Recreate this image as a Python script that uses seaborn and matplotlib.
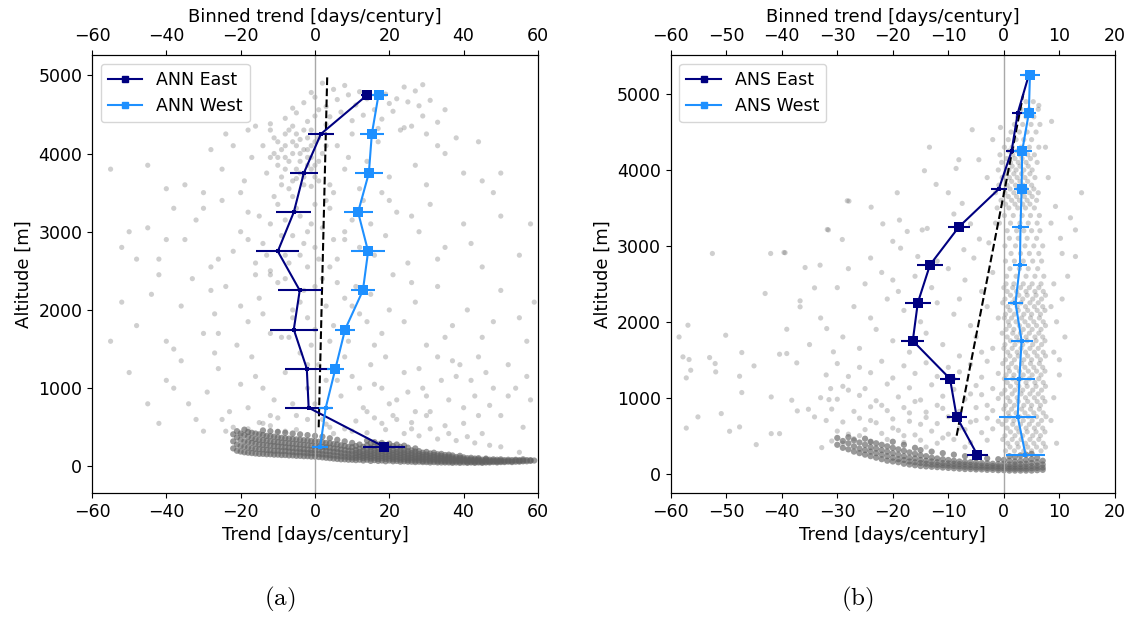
import matplotlib
matplotlib.use("Agg")
import matplotlib.pyplot as plt
import seaborn as sns
from matplotlib.lines import Line2D

# ---------------- binned profiles ----------------
alt_a = [250, 750, 1250, 1750, 2250, 2750, 3250, 3750, 4250, 4750]
ann_east = [18.6, -1.7, -2.2, -5.7, -4.1, -10.0, -5.7, -3.0, 1.6, 14.1]
ann_east_err = [5.6, 6.3, 6.0, 6.5, 5.9, 5.8, 4.7, 3.8, 3.4, 1.8]
ann_east_sig = [1, 0, 0, 0, 0, 0, 0, 0, 0, 1]
ann_west = [1.4, 2.9, 5.5, 8.1, 12.9, 14.3, 11.6, 14.5, 15.3, 17.1]
ann_west_err = [2.1, 1.9, 2.3, 2.6, 3.2, 4.6, 3.9, 3.8, 3.3, 2.6]
ann_west_sig = [0, 0, 1, 1, 1, 1, 1, 1, 1, 1]
fit_a_alt = [500, 5000]
fit_a_trend = [1.0, 3.3]

alt_b = [250, 750, 1250, 1750, 2250, 2750, 3250, 3750, 4250, 4750, 5250]
ans_east = [-4.8, -8.5, -9.7, -16.4, -15.5, -13.3, -8.1, -0.9, 1.4, 2.5, 4.5]
ans_east_err = [1.9, 1.8, 1.8, 2.1, 2.3, 2.3, 2.0, 1.4, 1.1, 1.1, 1.0]
ans_east_sig = [1, 1, 1, 1, 1, 1, 1, 0, 0, 0, 0]
ans_west = [3.9, 2.5, 2.8, 3.2, 2.1, 2.9, 3.0, 3.2, 3.3, 4.5, 4.7]
ans_west_err = [3.5, 3.3, 2.8, 2.0, 1.4, 1.3, 1.5, 1.4, 1.7, 1.3, 1.85]
ans_west_sig = [0, 0, 0, 0, 0, 0, 0, 1, 1, 1, 1]
fit_b_alt = [500, 5000]
fit_b_trend = [-8.5, 3.5]

# ---------------- station scatter, panel (a) ----------------
cloud_a = [
    (2, 4900), (5, 4820), (-1, 4780), (8, 4870), (24, 4850), (27, 4800), (19, 4760), (12, 4790), (29, 4880), (22, 4700),
    (-3, 4650), (0, 4720), (3, 4600), (6, 4690), (9, 4750), (11, 4620), (20, 4640), (25, 4660), (28, 4610), (31, 4680),
    (35, 4560), (16, 4560), (-6, 4580), (14, 4700),
    (-8, 4450), (-5, 4520), (-2, 4410), (1, 4560), (4, 4470), (7, 4530), (10, 4420), (13, 4490), (18, 4440), (21, 4540),
    (24, 4330), (26, 4350), (29, 4480), (33, 4400), (38, 4200), (-12, 4380), (0, 4480), (3, 4370), (-18, 4300), (17, 4320),
    (30, 4250), (44, 4150),
    (-14, 4100), (-12, 3950), (-11, 4200), (-10, 3850), (-9, 4050), (-8, 4250), (-7, 3900), (-6, 4150), (-5, 3800),
    (-4, 4000), (-3, 4300), (-2, 3950), (-1, 4100), (0, 3850), (1, 4200), (2, 4000),
    (-13, 3750), (-11, 4000), (-9, 3700), (-8, 3950), (-7, 4300), (-6, 3650), (-5, 4100), (-4, 3900), (-3, 3700),
    (-2, 4050), (-1, 3800), (0, 4150), (1, 3650),
    (-10, 4150), (-8, 3800), (-6, 4000), (-5, 4250), (-4, 3750), (-3, 3600), (-2, 4200), (-1, 3950), (0, 3700),
    (-7, 3550), (-9, 3600), (-3, 4050), (-1, 4300),
    (-12, 4300), (-6, 4350), (-4, 4180), (-2, 3850), (1, 3900), (-8, 4100), (-10, 3950), (-5, 3680), (3, 4100), (-1, 3580),
    (-30, 3500), (-25, 3800), (-22, 4100), (-19, 3650), (-17, 3950), (-16, 4350), (4, 3600), (6, 4100), (8, 3800),
    (10, 4250), (12, 3550), (14, 3900), (17, 4150), (20, 3700), (23, 4300), (27, 3850), (30, 3600), (35, 4000),
    (40, 3750), (45, 3650), (-35, 3600), (-40, 3550), (-20, 3500), (5, 3500), (9, 3950), (-45, 3850), (-55, 3800),
    (50, 3750), (-28, 4050), (-24, 4250), (18, 3500), (33, 4100), (48, 3500),
    (-52, 2800), (-45, 3050), (-42, 2650), (-38, 3300), (-35, 2900), (-32, 3150), (-28, 2550), (-25, 3400), (-22, 2750),
    (-20, 3000), (-18, 3250), (-16, 2600), (-14, 2850), (-12, 3100), (-10, 3350), (-8, 2700), (-6, 2950), (-4, 3200),
    (-2, 2550), (0, 2800), (2, 3050), (4, 3300), (6, 2650), (8, 2900), (10, 3150), (13, 3400), (16, 2700), (19, 2950),
    (22, 3250), (25, 2600), (28, 3000), (31, 3350), (35, 2800), (40, 3100), (45, 2550), (50, 3200), (55, 2700),
    (-15, 3200), (-13, 2700), (-11, 3450), (-9, 2950), (-7, 2600), (-5, 3300), (-3, 2850), (-1, 3100), (1, 2650),
    (3, 3400), (5, 2900), (-12, 2500), (-8, 3150), (-4, 2700), (0, 3350), (4, 2550), (8, 3000), (12, 2800),
    (-50, 3000), (-48, 2650), (-40, 2900), (-30, 3300), (-26, 2650), (20, 3400), (26, 3200), (33, 2650), (42, 2850),
    (58, 3100), (-18, 2900), (-6, 3450), (-2, 3000), (15, 3100),
    (-48, 1800), (-44, 2200), (-40, 1600), (-36, 2050), (-33, 2400), (-30, 1700), (-27, 1950), (-24, 2300), (-21, 1550),
    (-18, 1850), (-15, 2150), (-12, 2450), (-9, 1650), (-6, 1900), (-3, 2250), (0, 1750), (3, 2050), (6, 2350),
    (9, 1600), (12, 1950), (15, 2200), (18, 1700), (21, 2450), (24, 1850), (27, 2100), (30, 1550), (33, 2300),
    (37, 1800), (41, 2000), (45, 1650), (50, 2250), (55, 1900), (59, 2100),
    (-14, 1950), (-10, 2350), (-7, 1650), (-4, 2100), (-1, 1550), (2, 2400), (5, 1800), (8, 2150), (-12, 1700),
    (-6, 2000), (0, 2300), (4, 1600), (10, 2050), (14, 1850), (-16, 2450), (-2, 1900),
    (-55, 1600), (-52, 2100), (-42, 2450), (-38, 1500), (-26, 1700), (-20, 2050), (-8, 2400), (16, 1550), (20, 2000),
    (26, 2350), (35, 1650), (48, 1850), (57, 1600), (-28, 2250), (11, 2300),
    (-45, 800), (-40, 1100), (-36, 1350), (-32, 600), (-29, 950), (-26, 1250), (-23, 700), (-20, 1050), (-17, 1400),
    (-14, 550), (-11, 850), (-8, 1200), (-5, 650), (-2, 1000), (1, 1300), (4, 500), (7, 900), (10, 1150), (13, 750),
    (16, 1050), (19, 1400), (22, 600), (25, 950), (28, 1250), (31, 700), (34, 1100), (37, 1350), (40, 550), (43, 900),
    (46, 1200), (50, 650), (54, 1000), (58, 850),
    (-22, 500), (-18, 750), (-14, 1000), (-10, 450), (-6, 800), (-2, 1300), (2, 600), (6, 1100), (10, 450), (14, 700),
    (18, 550), (22, 850), (26, 480), (30, 650), (35, 520), (40, 750), (-25, 600), (-30, 450), (-38, 1000),
    (-50, 1200), (-42, 550), (-34, 800), (-27, 1450), (-16, 1150), (-12, 650), (-4, 1450), (0, 800), (3, 1100),
    (8, 1400), (12, 1000), (15, 1300), (20, 800), (24, 1200), (29, 1000), (33, 1400), (38, 1150), (44, 650),
    (48, 1000), (52, 1300), (56, 500), (-20, 400), (-8, 450), (45, 420),
    (-18, 480), (-12, 520), (-5, 470), (3, 540), (8, 480), (14, 430), (19, 470), (24, 420), (28, 390), (33, 350),
    (38, 330), (43, 300), (-15, 560), (-2, 600), (11, 580), (16, 620), (26, 560), (31, 480), (36, 420), (50, 250),
    (55, 180), (47, 270), (41, 380), (21, 650), (-10, 620), (5, 420), (-24, 450), (30, 900), (36, 850), (42, 1100),
    (47, 780), (52, 900), (57, 1150), (27, 700), (18, 1000), (39, 1300), (44, 1400),
]

band_a_trend = list(range(-22, 60))
band_a_alt = [
    [230, 320, 410], [200, 280, 370, 450], [190, 260, 340, 420], [180, 250, 320, 400, 470],
    [175, 240, 310, 380, 440], [170, 230, 300, 360, 430], [165, 225, 290, 350, 420], [160, 220, 280, 340, 410],
    [160, 215, 275, 335, 400, 460], [155, 210, 270, 330, 390], [155, 205, 265, 320, 385, 450],
    [150, 200, 260, 315, 380], [150, 200, 255, 310, 370, 440], [145, 195, 250, 305, 365],
    [145, 195, 245, 300, 360, 430], [140, 190, 240, 295, 355], [140, 185, 235, 290, 350, 420],
    [135, 180, 230, 285, 345], [135, 180, 225, 280, 340, 410], [130, 175, 220, 275, 335],
    [130, 170, 215, 270, 330, 400], [125, 170, 210, 265, 325], [125, 165, 210, 260, 320, 390],
    [120, 160, 205, 255, 315], [115, 155, 200, 250, 310, 380], [110, 150, 195, 245, 300],
    [105, 145, 190, 240, 295, 360], [100, 140, 185, 230, 285], [95, 135, 180, 225, 280, 340],
    [90, 130, 170, 215, 270], [90, 125, 165, 210, 260, 320], [85, 120, 160, 200, 250],
    [85, 115, 155, 195, 245, 300],
    [80, 110, 140, 175, 210, 260], [85, 120, 150, 185, 225, 280],
    [75, 105, 135, 165, 200, 250], [85, 115, 145, 180, 215, 270, 330], [70, 100, 130, 160, 195, 240, 300],
    [80, 110, 140, 175, 210, 255, 310], [70, 95, 125, 155, 190, 230, 280], [75, 105, 135, 165, 200, 245, 300],
    [65, 95, 120, 150, 180, 220, 270], [75, 100, 130, 160, 195, 240, 290], [65, 90, 115, 145, 175, 210, 260],
    [70, 95, 125, 155, 185, 225, 280], [60, 85, 110, 140, 170, 205, 250], [65, 90, 120, 150, 180, 215, 265],
    [60, 80, 105, 130, 160, 195, 240], [60, 85, 110, 140, 170, 205], [55, 75, 100, 125, 155, 190, 230],
    [60, 80, 105, 130, 160, 195], [55, 70, 95, 120, 145, 175], [55, 75, 100, 125, 150, 185],
    [50, 70, 90, 110, 135, 165], [55, 75, 95, 120, 145, 175], [50, 65, 85, 105, 130, 155],
    [50, 70, 90, 110, 135, 160], [50, 65, 80, 100, 120, 145], [50, 65, 85, 105, 125, 150],
    [45, 60, 75, 95, 115, 140], [50, 65, 80, 100, 120], [45, 60, 75, 90, 110, 135], [50, 65, 80, 95, 115],
    [45, 55, 70, 85, 105], [50, 60, 75, 90, 110], [45, 55, 70, 85, 100], [50, 60, 75, 90, 105],
    [45, 55, 70, 85], [50, 60, 75, 90, 100], [50, 60, 70, 85], [55, 65, 75, 90], [50, 60, 70, 85],
    [55, 65, 75, 90], [55, 65, 80], [60, 70, 85], [55, 65, 80], [60, 75, 85], [60, 70, 80], [65, 75, 90],
    [65, 80], [70, 80], [75],
]

# ---------------- station scatter, panel (b) ----------------
cloud_b = [
    (-58.5, 1800), (-57.8, 1538), (-56.9, 1955), (-56.7, 1503), (-56.4, 1362), (-57.2, 1261), (-57.2, 600),
    (-55.1, 747), (-52.5, 2900), (-53, 1529), (-52, 1450), (-51.9, 1340), (-50.9, 791), (-50.1, 1823),
    (-49.4, 558), (-47.6, 615), (-47.2, 1595), (-47.2, 1068), (-47.6, 1283), (-45, 1419), (-44.6, 382),
    (-43, 2373), (-42, 2900), (-41.9, 1010), (-41.9, 527), (-40.4, 527), (-40.4, 1573), (-39.6, 2913),
    (-39.1, 1582), (-39.1, 1902), (-38.2, 967), (-37.3, 1459), (-37.2, 826), (-36.7, 2276), (-36.7, 2197),
    (-35.8, 2715), (-35.2, 848), (-34.1, 747), (-34.1, 2447), (-33.1, 2746), (-32.8, 343), (-31.9, 1911),
    (-31.8, 3216), (-31.5, 975), (-31.2, 1120), (-30.7, 1604), (-29.1, 3084), (-28.2, 3594),
    (-13.4, 4300), (-8.1, 4135), (-14.3, 3990), (-8.6, 4020), (-4.5, 4135), (-12.2, 3810), (-19.2, 3700),
    (-27.9, 3590), (-23.9, 3510), (-21.8, 3290), (-31.6, 3210), (-18.8, 3340), (-17.4, 3190), (-14.7, 3210),
    (-13.8, 3230), (-7.5, 3560), (-9, 3420), (-6, 3290), (-4.4, 3090), (-39.4, 2910), (-24, 2840),
    (-20, 3060), (-18.6, 2970), (-15.5, 2860), (-7.2, 2950), (-5.4, 2840), (-2.7, 3040), (14, 3700),
    (12, 3370), (12.9, 3210), (9.3, 3520), (10.2, 3100), (10.5, 2900), (12.9, 2860), (-0.6, 4560),
    (-5.7, 4530), (6.3, 4850), (8.6, 4640), (-2, 4400), (-3, 3900), (7.5, 4300), (8, 3900), (-1.5, 3300),
    (8.5, 3300), (-10, 3700),
    (-28, 2700), (-25, 2500), (-22, 2650), (-19, 2400), (-16, 2600), (-13, 2450), (-10, 2700), (-7, 2550),
    (-4, 2400), (-2, 2650), (-27, 2200), (-24, 2050), (-21, 2300), (-18, 2150), (-15, 2000), (-12, 2250),
    (-9, 2100), (-6, 1950), (-3, 2200), (-1, 2050), (-29, 1800), (-26, 1650), (-23, 1900), (-20, 1750),
    (-17, 1600), (-14, 1850), (-11, 1700), (-8, 1550), (-5, 1800), (-2, 1650), (-30, 2450), (-33, 2050),
    (-35, 1700), (-12, 2800), (-20, 2550), (-8, 2300), (-4, 1600),
    (9, 2500), (10.5, 2300), (9.5, 2000), (11, 1800), (9, 1600), (10, 1300), (9, 1000), (8.5, 700),
    (9.5, 400), (11.5, 2600), (8.5, 2200), (10, 1500),
    (-30, 1450), (-26, 1400), (-22, 1480), (-18, 1420), (-14, 1460), (-10, 1400), (-6, 1440), (-3, 1480),
    (-32, 1300), (-28, 1280), (-24, 1330), (-20, 1260), (-16, 1320), (-12, 1280), (-8, 1340), (-4, 1270),
    (-1, 1320), (-29, 1150), (-25, 1120), (-21, 1180), (-17, 1130), (-13, 1170), (-9, 1110), (-5, 1160),
    (-2, 1120), (-33, 1000), (-30, 980), (-26, 1030), (-23, 960), (-19, 1010), (-15, 970), (-11, 1020),
    (-7, 980), (-4, 1040), (-1, 990), (-31, 850), (-27, 820), (-24, 880), (-21, 830), (-18, 870), (-14, 810),
    (-11, 860), (-8, 820), (-5, 870), (-2, 830), (-32, 700), (-29, 680), (-26, 730), (-23, 670), (-20, 720),
    (-17, 690), (-14, 740), (-12, 660), (-9, 710), (-6, 680), (-3, 730), (-1, 690), (-30, 560), (-28, 520),
    (-25, 580), (-22, 530), (-19, 570), (-16, 510), (-13, 560), (-10, 520), (-7, 580), (-4, 540), (-2, 590),
    (-31, 430), (-29, 400), (-27, 460), (-24, 420), (-21, 450), (-18, 410), (-15, 440), (-12, 400), (-9, 450),
    (-6, 410), (-3, 440), (-20, 600), (-17, 800), (-15, 650), (-12, 900), (-10, 750), (-8, 600), (-18, 500),
    (-14, 350), (-11, 470), (-7, 350), (-5, 700), (-3, 900), (-16, 950), (-9, 1250), (-6, 1050), (-24, 700),
    (-26, 500), (-22, 900), (-28, 1100),
]

column_b_alt = [300, 350, 400, 450, 500, 550, 600, 650, 700, 750, 800, 850, 900, 950, 1000, 1050, 1100, 1150,
                1200, 1250, 1300, 1350, 1400, 1450, 1500, 1550, 1600, 1650, 1700, 1750, 1800, 1850, 1900, 1950,
                2000, 2050, 2100, 2150, 2200, 2250, 2300, 2350, 2400, 2450, 2500, 2600, 2700, 2800, 2900, 3000,
                3100, 3200, 3300, 3400, 3500, 3550, 3600, 3650, 3700, 3750, 3800, 3850, 3900, 3950, 4000, 4050,
                4100, 4150, 4200, 4250, 4300, 4400, 4500, 4600, 4700, 4800, 4900]
column_b_trend = [
    [0.3, 1.9, 3.6, 5.0, 6.7], [1.1, 2.6, 4.3, 5.9, 7.5], [0.7, 2.4, 3.9, 5.4, 7.1], [1.5, 3.1, 4.7, 6.3, -0.2],
    [0.2, 2.0, 3.4, 5.2, 6.6], [1.2, 2.7, 4.2, 5.8, 7.4], [0.6, 2.3, 4.0, 5.5, 7.0], [1.6, 3.0, 4.6, 6.2, -0.3],
    [0.4, 1.8, 3.5, 5.1, 6.8], [1.0, 2.8, 4.4, 5.9, 7.6], [0.8, 2.2, 3.8, 5.4, 7.1], [1.4, 3.2, 4.8, 6.4, 0.0],
    [0.3, 1.9, 3.6, 5.0, 6.6], [1.1, 2.6, 4.3, 6.0, 7.4], [0.7, 2.4, 3.9, 5.5, 7.0], [1.5, 3.1, 4.7, 6.2, -0.4],
    [0.2, 2.0, 3.4, 5.2, 6.8], [1.2, 2.7, 4.2, 5.8, 7.5], [0.6, 2.3, 4.0, 5.6, 7.1], [1.6, 3.0, 4.6, 6.3, 0.1],
    [0.4, 1.8, 3.5, 5.1, 6.7], [1.0, 2.8, 4.4, 5.9, 7.4], [0.8, 2.2, 3.8, 5.4, 7.0], [1.4, 3.2, 4.8, 6.4, -0.2],
    [0.3, 1.9, 3.6, 5.0, 6.6], [1.1, 2.6, 4.3, 6.0, 7.5], [0.7, 2.4, 3.9, 5.5, 7.1], [1.5, 3.1, 4.7, 6.2, 0.0],
    [0.2, 2.0, 3.4, 5.2, 6.8], [1.2, 2.7, 4.2, 5.8, 7.4], [0.6, 2.3, 4.0, 5.6, 7.0], [1.6, 3.0, 4.6, 6.3, -0.3],
    [0.4, 1.8, 3.5, 5.1, 6.7], [1.0, 2.8, 4.4, 5.9, 7.5], [0.8, 2.2, 3.8, 5.4, 7.1], [1.4, 3.2, 4.8, 6.4, 0.1],
    [0.3, 1.9, 3.6, 5.0, 6.6], [1.1, 2.6, 4.3, 6.0, 7.4], [0.7, 2.4, 3.9, 5.5, 7.0], [1.5, 3.1, 4.7, 6.2, -0.2],
    [0.2, 2.0, 3.4, 5.2, 6.8], [1.2, 2.7, 4.2, 5.8, 7.5], [0.6, 2.3, 4.0, 5.6, 7.1], [1.6, 3.0, 4.6, 6.3, 0.0],
    [0.4, 1.8, 3.5, 5.1, 6.7],
    [0.5, 2.2, 4.0, 5.6, 7.2], [1.1, 2.8, 4.4, 6.1], [0.3, 1.9, 3.5, 5.2, 6.8],
    [1.3, 3.0, 4.6, 6.3], [0.2, 2.1, 3.8, 5.4, 7.0], [1.0, 2.6, 4.2, 5.9], [0.6, 2.3, 3.6, 5.0, 6.5],
    [-0.8, 1.2, 2.9, 4.4, 6.0], [0.1, 1.7, 3.3, 4.8, 6.4], [-1.2, 0.9, 2.5, 3.9, 5.5], [0.3, 2.0, 3.4, 4.7],
    [-0.5, 1.4, 2.8, 4.2, 5.9], [0.8, 2.3, 3.7, 5.1], [-1.5, 0.2, 1.8, 3.2, 4.6, 6.2], [1.1, 2.6, 4.0, 5.4],
    [-0.9, 0.6, 2.1, 3.5, 5.0], [1.4, 2.9, 4.3], [-0.3, 1.0, 2.4, 3.8, 5.6], [0.4, 1.8, 3.2, 4.7],
    [-1.0, 0.9, 2.2, 3.6, 5.1], [1.5, 2.9, 4.4], [-0.4, 1.2, 2.6, 4.0, 6.0], [0.5, 2.0, 3.3, 4.8],
    [-0.7, 1.6, 2.9, 4.3, 5.5], [0.9, 2.4, 3.7], [0.1, 1.5, 3.1, 4.6, 6.3], [0.8, 2.2, 3.6, 5.0],
    [1.3, 2.8, 4.2, 5.8], [1.9, 3.4, 4.9, 6.5], [2.5, 4.0, 5.4], [3.1, 4.6, 6.2], [4.0, 5.3],
]

band_b_trend = list(range(-30, 8))
band_b_alt = [
    [380, 470], [340, 430], [320, 400, 480], [290, 360, 440], [270, 330, 410], [250, 310, 380, 460],
    [230, 290, 350, 420], [210, 270, 330, 400], [190, 250, 310, 380], [170, 230, 290, 360],
    [160, 210, 270, 340, 420], [150, 190, 250, 320], [130, 180, 230, 300, 380], [120, 160, 210, 280],
    [110, 150, 200, 260, 340], [100, 140, 180, 240, 310], [95, 130, 170, 230], [90, 120, 160, 210, 290],
    [85, 115, 150, 200], [80, 110, 140, 190, 270], [75, 105, 135, 180], [70, 100, 130, 170, 250],
    [65, 95, 125, 160], [60, 90, 120, 155, 230], [60, 85, 115, 150], [55, 80, 110, 145, 210],
    [55, 80, 105, 140], [50, 75, 100, 135, 200], [50, 75, 100, 130], [45, 70, 95, 125, 190],
    [45, 70, 95, 130, 180], [40, 65, 90, 120, 170, 230], [40, 65, 90, 120, 160, 220],
    [40, 65, 90, 125, 170, 240], [40, 65, 95, 130, 180, 250], [40, 70, 100, 140, 190, 260],
    [45, 75, 105, 150, 210], [50, 80, 120, 170],
]

# ---------------- styling ----------------
plt.rcParams["font.family"] = ["DejaVu Sans"]
plt.rcParams["mathtext.fontset"] = "cm"
plt.rcParams["font.size"] = 12

EAST = "#000080"
WEST = "#1e90ff"
PT = "#626262"

fig = plt.figure(figsize=(11.33, 6.17), dpi=100)
ax_a = fig.add_axes([0.0812, 0.201, 0.3936, 0.7099])
ax_b = fig.add_axes([0.5920, 0.201, 0.3920, 0.7099])


def flatten(cols, rows):
    xs, ys = [], []
    for c, r in zip(cols, rows):
        for v in r:
            xs.append(c)
            ys.append(v)
    return xs, ys


def scatter_points(ax, xs, ys, alpha, s):
    sns.scatterplot(x=xs, y=ys, ax=ax, color=PT, alpha=alpha, s=s,
                    edgecolor="none", linewidth=0, legend=False, zorder=1)


def profile(ax, trend, err, sig, alt, color):
    sns.lineplot(x=trend, y=alt, ax=ax, sort=False, estimator=None, color=color,
                 lw=1.5, legend=False, zorder=4)
    ax.errorbar(trend, alt, xerr=err, fmt="none", ecolor=color, elinewidth=1.5,
                capsize=0, zorder=4)
    big_x = [t for t, s in zip(trend, sig) if s]
    big_y = [a for a, s in zip(alt, sig) if s]
    sm_x = [t for t, s in zip(trend, sig) if not s]
    sm_y = [a for a, s in zip(alt, sig) if not s]
    sns.scatterplot(x=big_x, y=big_y, ax=ax, marker="s", s=48, color=color,
                    edgecolor=color, linewidth=0, legend=False, zorder=5)
    sns.scatterplot(x=sm_x, y=sm_y, ax=ax, marker="s", s=10, color=color,
                    edgecolor=color, linewidth=0, legend=False, zorder=5)


panels = [
    dict(ax=ax_a, cloud=cloud_a, band=flatten(band_a_trend, band_a_alt), extra=None,
         east=(ann_east, ann_east_err, ann_east_sig, alt_a), west=(ann_west, ann_west_err, ann_west_sig, alt_a),
         fit=(fit_a_trend, fit_a_alt), xlim=(-60, 60), ylim=(-340, 5260), xticks=list(range(-60, 61, 20)),
         names=("ANN East", "ANN West"), tag="(a)", tagx=0.247),
    dict(ax=ax_b, cloud=cloud_b, band=flatten(band_b_trend, band_b_alt),
         extra=flatten(column_b_alt, column_b_trend),
         east=(ans_east, ans_east_err, ans_east_sig, alt_b), west=(ans_west, ans_west_err, ans_west_sig, alt_b),
         fit=(fit_b_trend, fit_b_alt), xlim=(-60, 20), ylim=(-255, 5515), xticks=list(range(-60, 21, 10)),
         names=("ANS East", "ANS West"), tag="(b)", tagx=0.757),
]

for p in panels:
    ax = p["ax"]
    cx = [c[0] for c in p["cloud"]]
    cy = [c[1] for c in p["cloud"]]
    scatter_points(ax, cx, cy, 0.3, 14)
    if p["extra"] is not None:
        ey, ex = p["extra"]
        scatter_points(ax, ex, ey, 0.3, 14)
    bx, by = p["band"]
    scatter_points(ax, bx, by, 0.65, 20)

    ax.axvline(0, color="#a8a8a8", lw=1.0, zorder=2)
    sns.lineplot(x=p["fit"][0], y=p["fit"][1], ax=ax, sort=False, estimator=None,
                 color="black", lw=1.5, linestyle="--", legend=False, zorder=3)
    profile(ax, *p["east"], EAST)
    profile(ax, *p["west"], WEST)

    ax.set_xlim(*p["xlim"])
    ax.set_ylim(*p["ylim"])
    ax.set_xticks(p["xticks"])
    ax.set_yticks(range(0, 5001, 1000))
    ax.set_xlabel("Trend [days/century]", fontsize=13)
    ax.set_ylabel("Altitude [m]", fontsize=13)
    ax.tick_params(labelsize=12.5)

    top = ax.twiny()
    top.set_xlim(*p["xlim"])
    top.set_xticks(p["xticks"])
    top.set_xlabel("Binned trend [days/century]", fontsize=13)
    top.tick_params(labelsize=12.5)

    handles = [Line2D([], [], color=EAST, marker="s", markersize=5, lw=1.5),
               Line2D([], [], color=WEST, marker="s", markersize=5, lw=1.5)]
    ax.legend(handles, p["names"], loc="upper left", fontsize=12.5)

    fig.text(p["tagx"], 0.028, r"$\mathrm{%s}$" % p["tag"], ha="center", va="center", fontsize=18)

fig.savefig("out.png", dpi=100)
